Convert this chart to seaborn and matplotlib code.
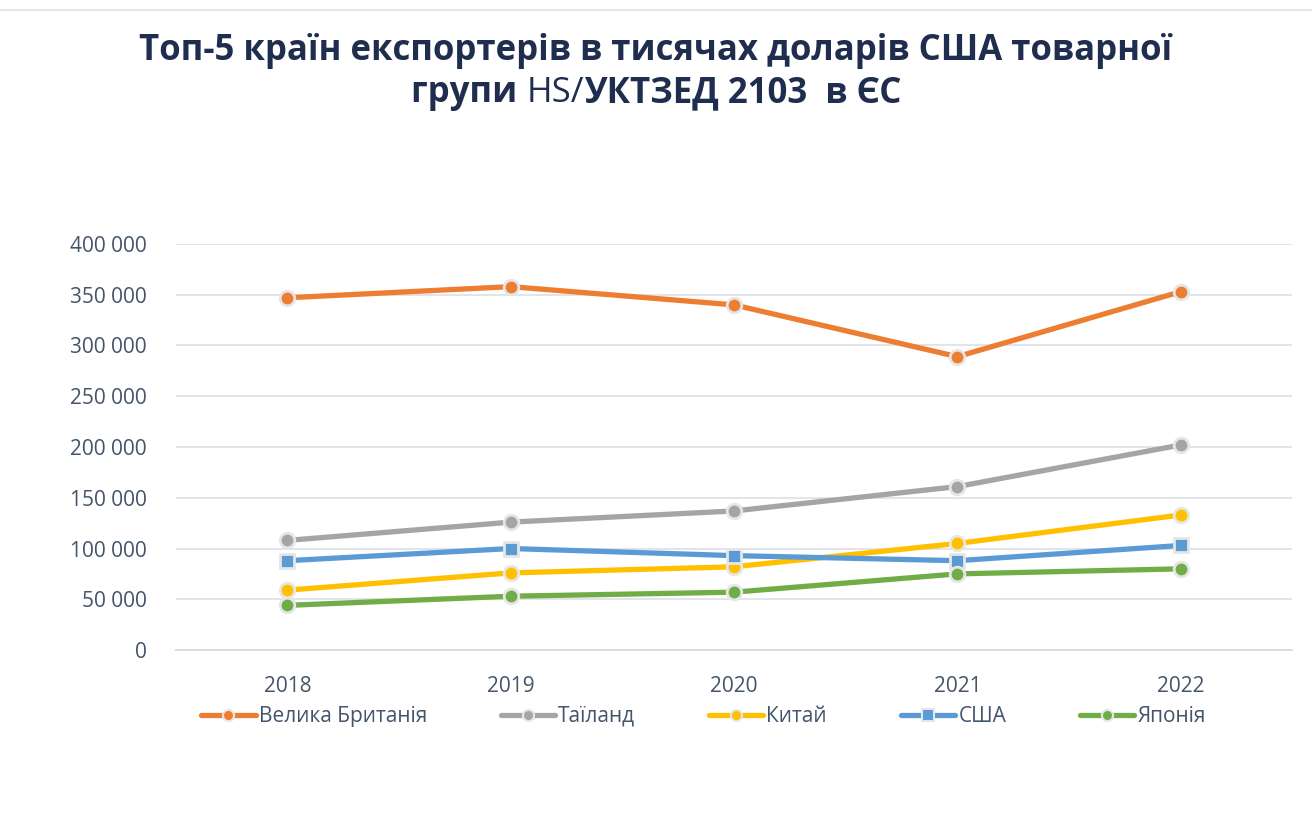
import matplotlib
matplotlib.use("Agg")
import matplotlib.pyplot as plt
import seaborn as sns
import pandas as pd
from matplotlib.lines import Line2D
from matplotlib.ticker import FuncFormatter

years = ["2018", "2019", "2020", "2021", "2022"]
countries = ["Велика Британія", "Таїланд", "Китай", "США", "Японія"]
uk = [347000, 358000, 340000, 289000, 353000]
thailand = [108000, 126000, 137000, 161000, 202000]
china = [59000, 76000, 82000, 105000, 133000]
usa = [88000, 100000, 93000, 88000, 103000]
japan = [44000, 53000, 57000, 75000, 80000]
series = [uk, thailand, china, usa, japan]

colors = ["#ED7D31", "#A5A5A5", "#FFC000", "#5B9BD5", "#70AD47"]
markers = ["o", "o", "o", "s", "o"]

rows = []
for c, vals in zip(countries, series):
    for i, (y, v) in enumerate(zip(years, vals)):
        rows.append({"country": c, "pos": i, "year": y, "value": v})
df = pd.DataFrame(rows)

sns.set_theme(style="white")
plt.rcParams["font.family"] = ["Open Sans", "DejaVu Sans"]

fig = plt.figure(figsize=(13.12, 8.16), dpi=100)
ax = fig.add_axes([0.134, 0.2034, 0.851, 0.4976])

sns.lineplot(data=df, x="pos", y="value", hue="country", style="country",
             hue_order=countries, style_order=countries,
             palette=dict(zip(countries, colors)),
             markers=dict(zip(countries, markers)), dashes=False,
             linewidth=3.8, markersize=10.5, markeredgecolor="#E6E6E6",
             markeredgewidth=2.0, ax=ax, legend=False)

lab_color = "#44546A"
ax.set_xlim(-0.5, 4.5)
ax.set_ylim(0, 400000)
ax.set_yticks(range(0, 400001, 50000))
ax.yaxis.set_major_formatter(FuncFormatter(lambda v, p: f"{int(v):,}".replace(",", " ")))
ax.set_xticks(range(5))
ax.set_xticklabels(years)
ax.set_xticks([-0.5 + i for i in range(6)], minor=True)
ax.tick_params(axis="x", which="major", length=0, pad=19, labelsize=15, labelcolor=lab_color)
ax.tick_params(axis="x", which="minor", length=7, width=1.2, color="#D9DCE1", direction="out")
ax.tick_params(axis="y", length=0, pad=21, labelsize=15, labelcolor=lab_color)
ax.grid(axis="y", color="#E1E4EA", linewidth=1.4)
ax.set_axisbelow(True)
for s in ["top", "right", "left"]:
    ax.spines[s].set_visible(False)
ax.spines["bottom"].set_color("#D9DCE1")
ax.spines["bottom"].set_linewidth(1.4)
ax.set_xlabel("")
ax.set_ylabel("")

handles = [Line2D([], [], color=c, marker=m, linewidth=3.8, markersize=8,
                  markeredgecolor="#E6E6E6", markeredgewidth=1.5)
           for c, m in zip(colors, markers)]
leg = fig.legend(handles, countries, loc="center left", bbox_to_anchor=(0.1535, 0.122),
                 ncol=5, frameon=False, fontsize=15, handlelength=2.6,
                 handletextpad=0.15, columnspacing=3.55, borderpad=0, borderaxespad=0)
for t in leg.get_texts():
    t.set_color(lab_color)

title_color = "#1F2D4E"
fs = 25
fig.text(0.5, 0.9365, "Топ-5 країн експортерів в тисячах доларів США товарної",
         ha="center", va="center", fontsize=fs, fontweight="bold", color=title_color)
fig.texts[-1].set_y(1 - 51 / 816)

# second title line with mixed weights
parts = [("групи ", "bold"), ("HS/", "normal"), ("УКТЗЕД 2103  в ЄС", "bold")]
fig.canvas.draw()
renderer = fig.canvas.get_renderer()
texts = []
for s, w in parts:
    t = fig.text(0, 1 - 93 / 816, s, ha="left", va="center", fontsize=fs, fontweight=w, color=title_color)
    texts.append(t)
widths = [t.get_window_extent(renderer).width for t in texts]
total = sum(widths)
x = (1312 - total) / 2
for t, w in zip(texts, widths):
    t.set_x(x / 1312)
    x += w

fig.add_artist(Line2D([0, 1], [1 - 10 / 816, 1 - 10 / 816], color="#DDE0E8", linewidth=1.2,
                      transform=fig.transFigure))

fig.savefig("out.png", dpi=100, facecolor="white")
